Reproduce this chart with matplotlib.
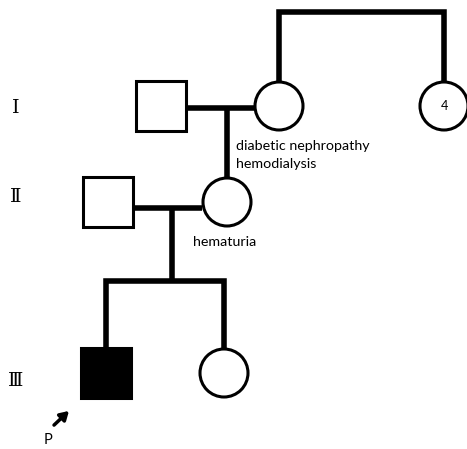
import matplotlib
matplotlib.use("Agg")
import matplotlib.pyplot as plt
from matplotlib.patches import Rectangle, Circle

# pedigree members: name, sex, affected, centre x, centre y
names = ["I-1", "I-2", "I-3", "II-1", "II-2", "III-1", "III-2"]
sexes = ["M", "F", "F", "M", "F", "M", "F"]
affected = [False, False, False, False, False, True, False]
cx = [161, 279, 444, 108, 227, 106, 224]
cy = [106, 106, 106, 202, 202, 373, 373]
inner_text = ["", "", "4", "", "", "", ""]

gen_labels = ["\u2160", "\u2161", "\u2162"]
gen_y = [108, 197, 381]

notes = ["diabetic nephropathy\nhemodialysis", "hematuria"]
note_xy = [(236, 155), (193, 242)]

half = 25
lw_line = 4.0
lw_sym = 2.2

fig = plt.figure(figsize=(4.67, 4.49), dpi=100)
ax = fig.add_axes([0, 0, 1, 1])
ax.set_xlim(0, 467)
ax.set_ylim(449, 0)
ax.axis("off")

def line(xs, ys):
    ax.plot(xs, ys, color="black", lw=lw_line, solid_capstyle="butt",
            solid_joinstyle="miter", zorder=1)

# sibship of I-2 and her sister
line([279, 279, 444, 444], [cy[1] - half, 12, 12, cy[2] - half])
# marriage I
line([cx[0] + half, cx[1] - half], [108, 108])
line([227, 227], [108, cy[4] - half])
# marriage II
line([cx[3] + half, cx[4] - half], [208, 208])
line([172, 172], [208, 281])
# sibship III
line([cx[5], cx[5], cx[6], cx[6]], [cy[5] - half, 281, 281, cy[6] - half])

for s, a, x, y, t in zip(sexes, affected, cx, cy, inner_text):
    fc = "black" if a else "white"
    if s == "M":
        p = Rectangle((x - half, y - half), 2 * half, 2 * half, fc=fc,
                      ec="black", lw=lw_sym, zorder=2)
    else:
        p = Circle((x, y), half - 1, fc=fc, ec="black", lw=lw_sym, zorder=2)
    ax.add_patch(p)
    if t:
        ax.text(x, y, t, ha="center", va="center", fontsize=9,
                family="Lato", zorder=3)

for lab, y in zip(gen_labels, gen_y):
    ax.text(16, y, lab, ha="center", va="center", fontsize=14,
            family="DejaVu Serif")

for txt, (x, y) in zip(notes, note_xy):
    ax.text(x, y, txt, ha="left", va="center", fontsize=10.3, family="Lato",
            linespacing=1.5)

# proband arrow
ax.annotate("", xy=(71, 409), xytext=(52, 427),
            arrowprops=dict(arrowstyle="-|>,head_length=0.5,head_width=0.3",
                            color="black", lw=2.5))
ax.text(48, 440, "P", ha="center", va="center", fontsize=10.5, family="Lato")

fig.savefig("out.png", dpi=100)
